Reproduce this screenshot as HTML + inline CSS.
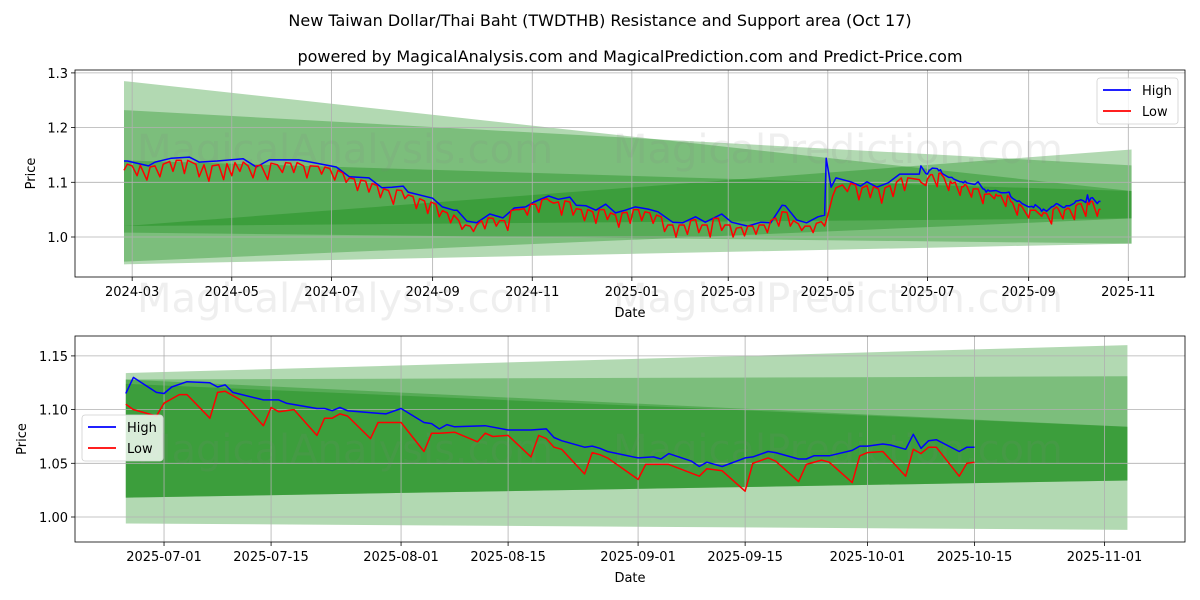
<!DOCTYPE html>
<html><head><meta charset="utf-8"><style>
body{margin:0;background:#fff;}
svg{display:block;font-family:"DejaVu Sans","Liberation Sans",sans-serif;}
</style></head><body>
<svg id="chart" width="1200" height="600" viewBox="0 0 1200 600" xmlns="http://www.w3.org/2000/svg">
<defs>
<clipPath id="clipTop"><rect x="75" y="70" width="1110" height="207"/></clipPath>
<clipPath id="clipBot"><rect x="75" y="336" width="1110" height="206"/></clipPath>
</defs>
<text x="600" y="26" text-anchor="middle" font-size="16">New Taiwan Dollar/Thai Baht (TWDTHB) Resistance and Support area (Oct 17)</text>
<text x="630" y="62" text-anchor="middle" font-size="16">powered by MagicalAnalysis.com and MagicalPrediction.com and Predict-Price.com</text>
<g id="top"></g>
<g id="bot"></g>
</svg>
<script>
// ---------- data ----------
// top chart: early history, day offsets from 2024-02-25
const earlyHighDays=[0,2,15,19,29,40,46,57,73,81,89,107,118,130,138,150,158,164,171,174,189,195,202,204,210,216,224,232,239,246,251,260,266,273,277,283,289,295,301,307,313,321,327,336,342,350,356,366,372,382,390,396,403,405,412,418,425,429,430,433,436,445,451,455,461,468,475];
const earlyHighVals=[1.139,1.139,1.130,1.137,1.144,1.146,1.137,1.139,1.143,1.128,1.141,1.141,1.135,1.128,1.110,1.108,1.090,1.091,1.093,1.082,1.071,1.055,1.049,1.049,1.029,1.026,1.042,1.035,1.053,1.055,1.064,1.075,1.069,1.073,1.058,1.057,1.049,1.060,1.044,1.049,1.055,1.051,1.046,1.027,1.026,1.037,1.027,1.042,1.027,1.020,1.027,1.026,1.058,1.057,1.031,1.026,1.037,1.040,1.144,1.091,1.108,1.101,1.093,1.101,1.091,1.099,1.115];
const earlyLowDays=[0,2,5,8,10,14,16,19,22,24,28,30,32,35,37,39,44,46,49,52,54,58,61,63,66,68,71,73,76,79,81,84,88,90,94,97,99,102,104,106,110,112,114,119,121,123,126,129,131,134,136,138,141,143,145,148,150,152,155,157,159,162,165,167,170,172,174,177,179,181,184,186,188,191,193,195,198,200,202,205,207,209,212,214,216,219,221,223,226,228,230,233,235,237,240,242,245,247,249,252,254,256,259,261,263,266,268,270,273,275,277,280,282,284,287,289,291,294,296,298,301,303,305,308,310,312,315,317,319,322,324,326,329,331,333,336,338,340,343,345,347,350,352,354,357,359,361,364,366,368,371,373,375,378,380,382,385,387,389,392,394,396,399,401,403,406,408,410,413,415,417,420,422,424,427,429,431,434,436,440,443,445,448,450,452,455,457,459,462,464,466,469,471,473,476,478,480];
const earlyLowVals=[1.122,1.133,1.130,1.112,1.131,1.104,1.128,1.130,1.110,1.133,1.138,1.120,1.140,1.140,1.116,1.140,1.133,1.110,1.132,1.102,1.130,1.132,1.105,1.134,1.112,1.136,1.120,1.137,1.130,1.108,1.130,1.131,1.105,1.135,1.132,1.118,1.136,1.135,1.118,1.136,1.130,1.108,1.130,1.129,1.115,1.128,1.125,1.104,1.122,1.117,1.100,1.108,1.106,1.085,1.104,1.102,1.082,1.098,1.094,1.072,1.088,1.085,1.060,1.086,1.085,1.070,1.077,1.074,1.052,1.070,1.066,1.043,1.064,1.060,1.037,1.048,1.044,1.026,1.040,1.030,1.014,1.022,1.020,1.010,1.022,1.030,1.015,1.035,1.034,1.020,1.030,1.030,1.012,1.048,1.050,1.050,1.052,1.040,1.060,1.060,1.045,1.068,1.070,1.065,1.062,1.064,1.040,1.066,1.064,1.040,1.052,1.050,1.030,1.050,1.046,1.025,1.050,1.050,1.032,1.044,1.040,1.018,1.044,1.045,1.025,1.050,1.050,1.030,1.046,1.044,1.025,1.040,1.037,1.010,1.022,1.022,1.000,1.022,1.022,1.005,1.030,1.032,1.008,1.022,1.022,1.000,1.034,1.034,1.012,1.022,1.022,1.000,1.016,1.018,1.002,1.020,1.020,1.005,1.022,1.022,1.008,1.030,1.035,1.020,1.046,1.045,1.020,1.030,1.024,1.012,1.020,1.020,1.008,1.025,1.028,1.020,1.040,1.075,1.090,1.095,1.083,1.098,1.095,1.068,1.090,1.094,1.072,1.092,1.088,1.062,1.090,1.094,1.074,1.100,1.108,1.085,1.108];
// recent data, day offsets from 2025-06-26
const recentHighDays=[0,1,4,5,6,8,11,12,13,14,18,20,21,25,26,27,28,29,34,36,39,40,41,42,43,47,50,53,55,56,57,60,61,62,63,67,69,70,71,74,75,76,78,81,82,84,85,88,89,90,92,95,96,97,99,100,102,103,104,105,106,109,110,111];
const recentHighVals=[1.115,1.130,1.116,1.115,1.121,1.126,1.125,1.121,1.123,1.116,1.109,1.109,1.106,1.101,1.101,1.099,1.102,1.099,1.096,1.101,1.088,1.087,1.082,1.086,1.084,1.085,1.081,1.081,1.082,1.074,1.071,1.065,1.066,1.064,1.061,1.055,1.056,1.054,1.059,1.052,1.047,1.051,1.047,1.055,1.056,1.061,1.060,1.054,1.054,1.057,1.057,1.062,1.066,1.066,1.068,1.067,1.063,1.077,1.064,1.071,1.072,1.061,1.065,1.065];
const recentLowDays=[0,1,4,5,7,8,11,12,13,15,18,19,20,22,25,26,27,28,29,32,33,34,36,39,40,41,43,46,47,48,50,53,54,55,56,57,60,61,62,63,67,68,71,75,76,78,81,82,84,85,88,89,91,92,95,96,97,99,102,103,104,105,106,109,110,111];
const recentLowVals=[1.105,1.100,1.094,1.106,1.114,1.114,1.092,1.116,1.117,1.109,1.085,1.102,1.098,1.100,1.076,1.092,1.092,1.096,1.094,1.073,1.088,1.088,1.088,1.061,1.078,1.078,1.079,1.070,1.078,1.075,1.076,1.056,1.076,1.073,1.065,1.063,1.040,1.060,1.058,1.055,1.035,1.049,1.049,1.038,1.045,1.043,1.024,1.050,1.055,1.052,1.033,1.049,1.053,1.051,1.032,1.057,1.060,1.061,1.038,1.063,1.059,1.065,1.065,1.038,1.050,1.051];
const recentOffset=487; // 2025-06-26 relative to 2024-02-25
// bands: [topStart, topEnd, bottomStart, bottomEnd]
const topBandsTopStart=[1.285,1.232,1.140,1.020];
const topBandsTopEnd=[1.084,1.131,1.084,1.160];
const topBandsBotStart=[0.955,0.950,1.020,1.008];
const topBandsBotEnd=[1.034,0.988,1.034,0.988];
const botBandsTopStart=[1.134,1.128,1.128,1.124];
const botBandsTopEnd=[1.160,1.131,1.084,1.084];
const botBandsBotStart=[0.994,1.018,1.018,1.018];
const botBandsBotEnd=[0.988,1.034,1.034,1.034];
const topYTicks=[1.0,1.1,1.2,1.3];
const topYLabels=["1.0","1.1","1.2","1.3"];
const topXTicks=["2024-03-01","2024-05-01","2024-07-01","2024-09-01","2024-11-01","2025-01-01","2025-03-01","2025-05-01","2025-07-01","2025-09-01","2025-11-01"];
const topXLabels=["2024-03","2024-05","2024-07","2024-09","2024-11","2025-01","2025-03","2025-05","2025-07","2025-09","2025-11"];
const botYTicks=[1.00,1.05,1.10,1.15];
const botYLabels=["1.00","1.05","1.10","1.15"];
const botXTicks=["2025-07-01","2025-07-15","2025-08-01","2025-08-15","2025-09-01","2025-09-15","2025-10-01","2025-10-15","2025-11-01"];

// ---------- scales ----------
const NS="http://www.w3.org/2000/svg";
const DAY=86400000;
const topOrigin=Date.UTC(2024,1,25), botOrigin=Date.UTC(2025,5,26);
function xTop(d){return 124+d*1.633;}
function yTop(v){return 237-(v-1)*547;}
function xBot(d){return 125.8+d*7.646;}
function yBot(v){return 517-(v-1)*1074;}
const topBandStart=0, topBandEnd=617, botBandStart=0, botBandEnd=131;
function dayOf(s,origin){const p=s.split('-');return (Date.UTC(+p[0],+p[1]-1,+p[2])-origin)/DAY;}
function mk(tag,attrs,parent){const e=document.createElementNS(NS,tag);for(const k in attrs)e.setAttribute(k,attrs[k]);parent.appendChild(e);return e;}

function drawPanel(g,o){
  const {L,T,R,B,xs,ys,clip}=o;
  const bandG=mk('g',{'clip-path':'url(#'+clip+')'},g);
  for(let i=0;i<o.bTS.length;i++){
    const x0=xs(o.bStart),x1=xs(o.bEnd);
    const p=mk('polygon',{points:`${x0},${ys(o.bTS[i])} ${x1},${ys(o.bTE[i])} ${x1},${ys(o.bBE[i])} ${x0},${ys(o.bBS[i])}`,fill:'green','fill-opacity':0.3},bandG);
    
    
  }
  o.xt.forEach((d,i)=>{const x=xs(d);
    const l=mk('line',{x1:x,x2:x,y1:T,y2:B,stroke:'#b0b0b0','stroke-width':0.8},g);
    
    
    mk('line',{x1:x,x2:x,y1:B,y2:B+4,stroke:'#000','stroke-width':0.8},g);
    const t=mk('text',{x:x,y:B+19,'text-anchor':'middle','font-size':13},g);t.textContent=o.xl[i];
    
    
  });
  o.yt.forEach((v,i)=>{const y=ys(v);
    const l=mk('line',{x1:L,x2:R,y1:y,y2:y,stroke:'#b0b0b0','stroke-width':0.8},g);
    
    
    mk('line',{x1:L-4,x2:L,y1:y,y2:y,stroke:'#000','stroke-width':0.8},g);
    const t=mk('text',{x:L-7,y:y+5,'text-anchor':'end','font-size':13},g);t.textContent=o.yl[i];
    
    
  });
  o.wm.forEach(w=>{const t=mk('text',{x:w[0],y:w[1],'text-anchor':'middle','font-size':40,fill:'#808080','fill-opacity':0.13},g);t.textContent=w[2];
    
    });
  const lineG=mk('g',{'clip-path':'url(#'+clip+')'},g);
  [[o.hd,o.hv,'#0000ff','high-line'],[o.ld,o.lv,'#ff0000','low-line']].forEach(s=>{
    const pts=s[0].map((d,i)=>xs(d).toFixed(1)+','+ys(s[1][i]).toFixed(1)).join(' ');
    const pl=mk('polyline',{points:pts,fill:'none',stroke:s[2],'stroke-width':1.5,'stroke-linejoin':'round'},lineG);
    
    
  });
  const f=mk('rect',{x:L,y:T,width:R-L,height:B-T,fill:'none',stroke:'#000','stroke-width':0.8},g);
  
  
  const xl=mk('text',{x:(L+R)/2,y:B+40,'text-anchor':'middle','font-size':13},g);xl.textContent='Date';
  
  
  const yl=mk('text',{x:0,y:0,'text-anchor':'middle','font-size':13,transform:`translate(${o.ylx},${(T+B)/2}) rotate(-90)`},g);yl.textContent='Price';
  
  
  const lg=mk('g',{},g);
  
  
  const [lx,ly]=o.leg;
  mk('rect',{x:lx,y:ly,width:81,height:46,rx:3,fill:'#fff','fill-opacity':0.8,stroke:'#d0d0d0','stroke-width':0.8},lg);
  [['High','#0000ff'],['Low','#ff0000']].forEach((e,i)=>{
    const eg=mk('g',{},lg);
    
    
    const yy=ly+12+i*21;
    mk('line',{x1:lx+6,x2:lx+34,y1:yy,y2:yy,stroke:e[1],'stroke-width':1.8},eg);
    const t=mk('text',{x:lx+45,y:yy+5,'font-size':13},eg);t.textContent=e[0];
  });
}

const topHD=earlyHighDays.concat(recentHighDays.map(d=>d+recentOffset));
const topHV=earlyHighVals.concat(recentHighVals);
const topLD=earlyLowDays.concat(recentLowDays.map(d=>d+recentOffset));
const topLV=earlyLowVals.concat(recentLowVals);

drawPanel(document.getElementById('top'),{L:75,T:70,R:1185,B:277,xs:xTop,ys:yTop,clip:'clipTop',
  bTS:topBandsTopStart,bTE:topBandsTopEnd,bBS:topBandsBotStart,bBE:topBandsBotEnd,bStart:topBandStart,bEnd:topBandEnd,
  xt:topXTicks.map(s=>dayOf(s,topOrigin)),xl:topXLabels,yt:topYTicks,yl:topYLabels,
  hd:topHD,hv:topHV,ld:topLD,lv:topLV,ylx:35,leg:[1097,78],
  wm:[[345,163,'MagicalAnalysis.com'],[838,163,'MagicalPrediction.com'],[345,312,'MagicalAnalysis.com'],[838,312,'MagicalPrediction.com']]});
drawPanel(document.getElementById('bot'),{L:75,T:336,R:1185,B:542,xs:xBot,ys:yBot,clip:'clipBot',
  bTS:botBandsTopStart,bTE:botBandsTopEnd,bBS:botBandsBotStart,bBE:botBandsBotEnd,bStart:botBandStart,bEnd:botBandEnd,
  xt:botXTicks.map(s=>dayOf(s,botOrigin)),xl:botXTicks,yt:botYTicks,yl:botYLabels,
  hd:recentHighDays,hv:recentHighVals,ld:recentLowDays,lv:recentLowVals,ylx:26,leg:[82,415],
  wm:[[345,463,'MagicalAnalysis.com'],[838,463,'MagicalPrediction.com']]});
</script>
</body></html>
